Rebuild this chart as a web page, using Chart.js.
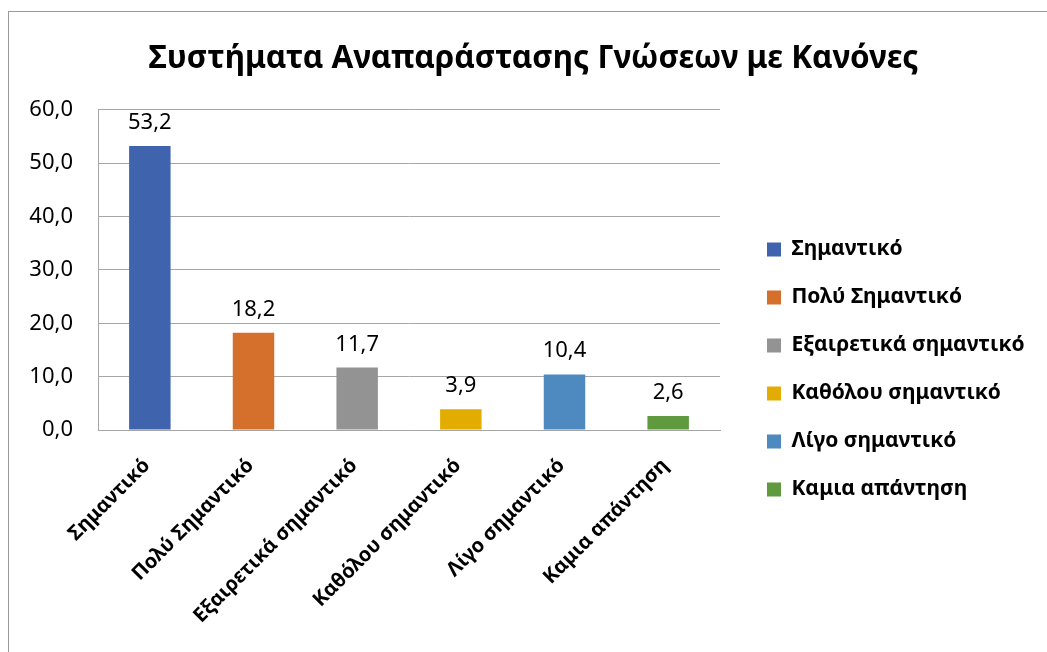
<!doctype html>
<html lang="el">
<head>
<meta charset="UTF-8" />
<title>Συστήματα Αναπαράστασης Γνώσεων με Κανόνες</title>
<script src="https://cdn.jsdelivr.net/npm/chart.js"></script>
<style>
  html, body { margin: 0; padding: 0; background: #fff; }
  .frame {
    position: absolute; left: 8px; top: 11px; width: 1100px; height: 700px;
    border-left: 1px solid #9a9a9a; border-top: 1px solid #9a9a9a;
  }
  .wrap { position: absolute; left: 0; top: 0; width: 1047px; height: 652px; }
</style>
</head>
<body>
<div class="frame"></div>
<div class="wrap"><canvas id="chart"></canvas></div>
<script>
const categories = ["Σημαντικό", "Πολύ Σημαντικό", "Εξαιρετικά σημαντικό", "Καθόλου σημαντικό", "Λίγο σημαντικό", "Καμια απάντηση"];
const values = [53.2, 18.2, 11.7, 3.9, 10.4, 2.6];
const colors = ["#3f64ad", "#d46f2c", "#939393", "#e2ac00", "#4e89bf", "#5f9a3e"];
const yTicks = [0, 10, 20, 30, 40, 50, 60];

const FONT = "'Noto Sans', sans-serif";
const fmt = v => v.toFixed(1).replace(".", ",");

// etiquetas encima de cada barra
const barLabels = {
  id: "barLabels",
  afterDatasetsDraw(chart) {
    const ctx = chart.ctx;
    const meta = chart.getDatasetMeta(0);
    ctx.save();
    ctx.font = "22px " + FONT;
    ctx.fillStyle = "#000";
    ctx.textAlign = "center";
    ctx.textBaseline = "alphabetic";
    meta.data.forEach((bar, i) => {
      ctx.fillText(fmt(values[i]), bar.x, bar.y - 17);
    });
    ctx.restore();
  }
};

// leyenda con ancho fijo, un poco separada del área del gráfico
const legendFix = {
  id: "legendFix",
  beforeLayout(chart) {
    const lg = chart.legend;
    if (lg && !lg._fixed) {
      const fit = lg.fit;
      lg.fit = function () { fit.call(this); this.width = 327; };
      lg._fixed = true;
    }
  },
  afterLayout(chart) {
    chart.legend.left += 20;
    chart.legend.right += 20;
  }
};

new Chart(document.getElementById("chart"), {
  type: "bar",
  data: {
    labels: categories,
    datasets: [{
      data: values,
      backgroundColor: colors,
      categoryPercentage: 1,
      barPercentage: 0.4
    }]
  },
  options: {
    responsive: true,
    maintainAspectRatio: false,
    animation: false,
    layout: { padding: { left: 20, right: 0, top: 0, bottom: 0 } },
    plugins: {
      title: {
        display: true,
        text: "Συστήματα Αναπαράστασης Γνώσεων με Κανόνες",
        color: "#000",
        font: { family: FONT, size: 31.5, weight: "bold" },
        padding: { top: 40, bottom: 32 }
      },
      legend: {
        position: "right",
        align: "start",
        title: { display: true, text: "", font: { size: 10 }, padding: { top: 200, bottom: 0 } },
        labels: {
          color: "#000",
          font: { family: FONT, size: 21, weight: "bold" },
          boxWidth: 14,
          boxHeight: 14,
          padding: 27,
          generateLabels: chart => categories.map((c, i) => ({
            text: c,
            fillStyle: colors[i],
            strokeStyle: colors[i],
            fontColor: "#000",
            lineWidth: 0,
            index: i
          }))
        }
      },
      tooltip: { enabled: false }
    },
    scales: {
      x: {
        afterFit: s => { s.height = 222; },
        grid: { display: false, drawTicks: false },
        border: { color: "#a6a6a6", width: 1 },
        ticks: {
          color: "#000",
          font: { family: FONT, size: 20, weight: "bold" },
          minRotation: 45,
          maxRotation: 45,
          padding: 24,
          labelOffset: -3
        }
      },
      y: {
        min: 0,
        max: 60,
        afterFit: s => { s.width = 78; },
        afterBuildTicks: axis => { axis.ticks = yTicks.map(v => ({ value: v })); },
        grid: { color: "#a6a6a6", lineWidth: 1, drawTicks: false },
        border: { color: "#a6a6a6", width: 1 },
        ticks: {
          color: "#000",
          font: { family: FONT, size: 22 },
          padding: 25,
          callback: v => fmt(v)
        }
      }
    }
  },
  plugins: [barLabels, legendFix]
});
</script>
</body>
</html>
